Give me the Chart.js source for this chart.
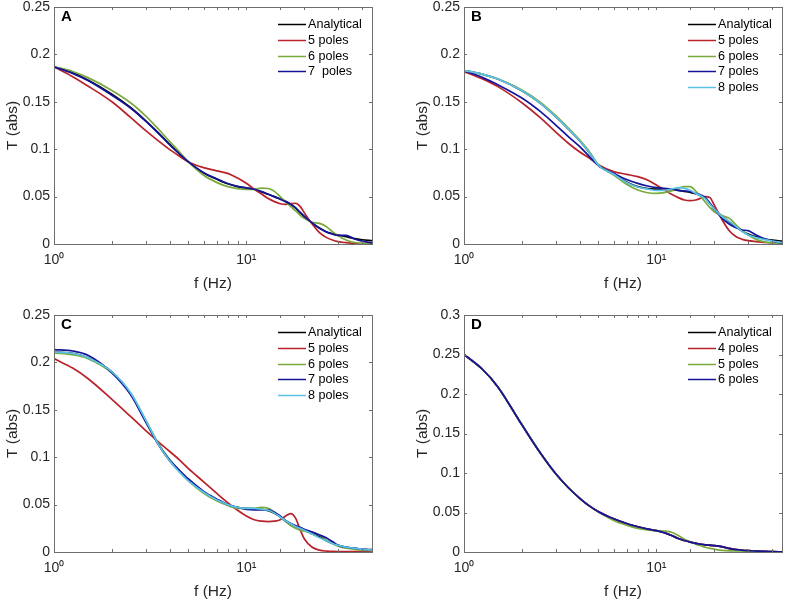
<!DOCTYPE html>
<html>
<head>
<meta charset="utf-8">
<script src="https://cdn.jsdelivr.net/npm/chart.js@4.4.1/dist/chart.umd.min.js"></script>
<style>
  html, body { margin: 0; padding: 0; background: #fff; overflow: hidden; }
  #wrap { position: relative; width: 787px; height: 600px; overflow: hidden; }
  canvas { position: absolute; }
</style>
</head>
<body>
<div id="wrap">
  <canvas id="chartA" width="377" height="300" style="left:0;top:0"></canvas>
  <canvas id="chartB" width="377" height="300" style="left:410px;top:0"></canvas>
  <canvas id="chartC" width="377" height="300" style="left:0;top:308px"></canvas>
  <canvas id="chartD" width="377" height="300" style="left:410px;top:308px"></canvas>
</div>
<script>
// frequency samples (Hz), shared by all panels
var freq = [1, 1.25, 1.5, 2, 2.5, 3, 3.5, 4, 4.5, 5, 6, 7, 8, 9, 10, 11, 12, 13, 14, 15, 16, 17, 18, 19, 20, 22, 24, 26, 28, 30, 33, 36, 40, 45];

// panel A
var aAnalytical = [0.187, 0.1805, 0.173, 0.158, 0.144, 0.130, 0.117, 0.105, 0.095, 0.0866, 0.075, 0.0685, 0.0635, 0.0605, 0.059, 0.0577, 0.055, 0.0525, 0.050, 0.0475, 0.045, 0.042, 0.038, 0.033, 0.029, 0.022, 0.0168, 0.013, 0.011, 0.0095, 0.0077, 0.006, 0.0045, 0.0035];
var aPoles5 = [0.187, 0.1765, 0.1667, 0.150, 0.1335, 0.1195, 0.1085, 0.0995, 0.0925, 0.0866, 0.0805, 0.0772, 0.0745, 0.0695, 0.064, 0.0577, 0.0527, 0.048, 0.0447, 0.0425, 0.0418, 0.0425, 0.043, 0.040, 0.033, 0.021, 0.012, 0.007, 0.0042, 0.0025, 0.0014, 0.0007, 0.0004, 0.0004];
var aPoles6 = [0.187, 0.182, 0.1755, 0.162, 0.149, 0.135, 0.121, 0.108, 0.097, 0.0866, 0.0725, 0.065, 0.0605, 0.0584, 0.0577, 0.0577, 0.059, 0.0585, 0.0555, 0.050, 0.0445, 0.0395, 0.0352, 0.0306, 0.027, 0.0229, 0.0218, 0.0185, 0.013, 0.0088, 0.0042, 0.0018, 0.0007, 0.0004];
var aPoles7 = [0.187, 0.180, 0.1725, 0.157, 0.1435, 0.1295, 0.1165, 0.1045, 0.0948, 0.0866, 0.0752, 0.0688, 0.0638, 0.0608, 0.0592, 0.0577, 0.0552, 0.0524, 0.0497, 0.0473, 0.0447, 0.0418, 0.0383, 0.0336, 0.0292, 0.0222, 0.0165, 0.0128, 0.0105, 0.0092, 0.0092, 0.0058, 0.003, 0.0012];

// panel B
var bAnalytical = [0.183, 0.179, 0.174, 0.1617, 0.1484, 0.1343, 0.121, 0.1086, 0.096, 0.083, 0.0735, 0.0655, 0.0605, 0.0585, 0.0578, 0.0575, 0.0572, 0.0565, 0.0555, 0.0545, 0.053, 0.051, 0.048, 0.0425, 0.037, 0.029, 0.023, 0.018, 0.0135, 0.0105, 0.0075, 0.0055, 0.004, 0.003];
var bPoles5 = [0.182, 0.174, 0.166, 0.149, 0.133, 0.118, 0.106, 0.097, 0.0905, 0.0835, 0.0763, 0.0735, 0.071, 0.0675, 0.0622, 0.057, 0.0524, 0.0489, 0.0464, 0.0457, 0.0464, 0.0482, 0.050, 0.0489, 0.041, 0.0253, 0.0137, 0.0077, 0.0049, 0.0035, 0.0025, 0.0018, 0.001, 0.0004];
var bPoles6 = [0.183, 0.179, 0.174, 0.1624, 0.1494, 0.1354, 0.122, 0.1097, 0.097, 0.0835, 0.0728, 0.063, 0.057, 0.0541, 0.0534, 0.0541, 0.0559, 0.0587, 0.0605, 0.0605, 0.0559, 0.050, 0.044, 0.0383, 0.034, 0.0299, 0.027, 0.020, 0.0137, 0.0095, 0.0049, 0.0025, 0.001, 0.0004];
var bPoles7 = [0.183, 0.1755, 0.168, 0.154, 0.1396, 0.1255, 0.113, 0.1027, 0.092, 0.0828, 0.0745, 0.068, 0.064, 0.0612, 0.0594, 0.0587, 0.058, 0.0566, 0.0559, 0.0552, 0.0534, 0.0517, 0.0489, 0.0429, 0.0369, 0.027, 0.0207, 0.0172, 0.0148, 0.0141, 0.0095, 0.006, 0.0032, 0.001];
var bPoles8 = [0.183, 0.179, 0.174, 0.1617, 0.1484, 0.1343, 0.121, 0.1086, 0.096, 0.083, 0.0735, 0.065, 0.0601, 0.058, 0.0566, 0.0566, 0.058, 0.0594, 0.0587, 0.0566, 0.0534, 0.051, 0.0475, 0.0418, 0.0369, 0.0288, 0.0236, 0.0183, 0.013, 0.0095, 0.0067, 0.0049, 0.0032, 0.0014];

// panel C
var cAnalytical = [0.211, 0.2095, 0.205, 0.190, 0.167, 0.138, 0.113, 0.096, 0.085, 0.076, 0.063, 0.055, 0.050, 0.047, 0.046, 0.0455, 0.045, 0.0435, 0.041, 0.037, 0.033, 0.030, 0.027, 0.025, 0.023, 0.019, 0.016, 0.012, 0.009, 0.007, 0.005, 0.004, 0.003, 0.0025];
var cPoles5 = [0.204, 0.194, 0.183, 0.161, 0.143, 0.128, 0.116, 0.106, 0.097, 0.088, 0.074, 0.062, 0.052, 0.044, 0.038, 0.034, 0.0325, 0.032, 0.0325, 0.034, 0.038, 0.0405, 0.036, 0.024, 0.014, 0.005, 0.002, 0.001, 0.0007, 0.0005, 0.0004, 0.0003, 0.0003, 0.0003];
var cPoles6 = [0.210, 0.208, 0.204, 0.189, 0.168, 0.139, 0.114, 0.097, 0.085, 0.075, 0.062, 0.054, 0.049, 0.046, 0.046, 0.046, 0.047, 0.046, 0.042, 0.037, 0.032, 0.028, 0.025, 0.023, 0.022, 0.021, 0.018, 0.013, 0.009, 0.006, 0.004, 0.003, 0.002, 0.0015];
var cPoles7 = [0.2135, 0.212, 0.2075, 0.189, 0.166, 0.137, 0.113, 0.097, 0.086, 0.077, 0.064, 0.056, 0.050, 0.047, 0.045, 0.0445, 0.0445, 0.0445, 0.042, 0.038, 0.033, 0.030, 0.028, 0.026, 0.024, 0.021, 0.018, 0.015, 0.011, 0.007, 0.005, 0.004, 0.003, 0.002];
var cPoles8 = [0.211, 0.2095, 0.205, 0.190, 0.168, 0.139, 0.113, 0.096, 0.084, 0.075, 0.063, 0.055, 0.050, 0.047, 0.046, 0.046, 0.045, 0.044, 0.041, 0.037, 0.033, 0.030, 0.027, 0.025, 0.023, 0.019, 0.015, 0.012, 0.009, 0.007, 0.005, 0.004, 0.003, 0.002];

// panel D
var dAnalytical = [0.250, 0.231, 0.209, 0.161, 0.125, 0.099, 0.081, 0.068, 0.058, 0.051, 0.042, 0.036, 0.032, 0.029, 0.027, 0.0245, 0.021, 0.017, 0.0145, 0.0125, 0.011, 0.0098, 0.009, 0.0085, 0.008, 0.0065, 0.0045, 0.003, 0.0022, 0.0017, 0.0012, 0.0008, 0.0004, 0.0002];
var dPoles4 = [0.250, 0.231, 0.209, 0.161, 0.125, 0.099, 0.081, 0.068, 0.058, 0.051, 0.042, 0.036, 0.032, 0.029, 0.027, 0.0245, 0.021, 0.017, 0.0145, 0.0125, 0.011, 0.0098, 0.009, 0.0085, 0.008, 0.0065, 0.0045, 0.003, 0.0022, 0.0017, 0.0012, 0.0008, 0.0004, 0.0002];
var dPoles5 = [0.250, 0.231, 0.209, 0.161, 0.125, 0.099, 0.081, 0.068, 0.058, 0.0505, 0.040, 0.034, 0.030, 0.028, 0.027, 0.0265, 0.025, 0.021, 0.016, 0.013, 0.010, 0.008, 0.006, 0.0045, 0.0035, 0.002, 0.0015, 0.0015, 0.0012, 0.001, 0.0008, 0.0005, 0.0003, 0.0002];
var dPoles6 = [0.250, 0.231, 0.209, 0.161, 0.125, 0.099, 0.081, 0.068, 0.058, 0.051, 0.042, 0.036, 0.032, 0.029, 0.027, 0.0243, 0.0208, 0.017, 0.0145, 0.0125, 0.011, 0.0098, 0.009, 0.0086, 0.0082, 0.0068, 0.0042, 0.003, 0.0022, 0.0017, 0.0012, 0.0008, 0.0004, 0.0002];

var labelsA = ['Analytical', '5 poles', '6 poles', '7  poles'];
var labelsB = ['Analytical', '5 poles', '6 poles', '7 poles', '8 poles'];
var labelsD = ['Analytical', '4 poles', '5 poles', '6 poles'];

var BLACK = '#000000', RED = '#B8232B', GREEN = '#7BAA3C', BLUE = '#14149A', CYAN = '#5BC2E7';

Chart.defaults.font.family = "'Liberation Sans', Arial, sans-serif";
Chart.defaults.color = '#262626';

// MATLAB-like box: frame, inward ticks, panel letter and legend inside the axes
var boxPlugin = {
    id: 'matlabBox',
    afterDatasetsDraw: function(chart, args, opts) {
        var ctx = chart.ctx;
        var a = chart.chartArea;
        var xs = chart.scales.x, ys = chart.scales.y;
        ctx.save();
        ctx.strokeStyle = '#6e6e6e';
        ctx.lineWidth = 1;
        ctx.beginPath();
        xs.ticks.forEach(function(t) {
            var px = Math.round(xs.getPixelForValue(t.value)) + 0.5;
            if (px <= a.left + 1 || px >= a.right - 1) return;
            ctx.moveTo(px, a.bottom); ctx.lineTo(px, a.bottom - 3);
            ctx.moveTo(px, a.top); ctx.lineTo(px, a.top + 3);
        });
        ys.ticks.forEach(function(t) {
            var py = Math.round(ys.getPixelForValue(t.value)) + 0.5;
            if (py <= a.top + 1 || py >= a.bottom - 1) return;
            ctx.moveTo(a.left, py); ctx.lineTo(a.left + 3, py);
            ctx.moveTo(a.right, py); ctx.lineTo(a.right - 3, py);
        });
        ctx.stroke();
        ctx.strokeRect(Math.round(a.left) + 0.5, Math.round(a.top) + 0.5, Math.round(a.right - a.left), Math.round(a.bottom - a.top));

        ctx.fillStyle = '#000';
        ctx.font = "bold 15px 'Liberation Sans', Arial, sans-serif";
        ctx.textAlign = 'left';
        ctx.textBaseline = 'middle';
        ctx.fillText(opts.letter, a.left + 7, a.top + 10);

        ctx.font = "12.6px 'Liberation Sans', Arial, sans-serif";
        chart.data.datasets.forEach(function(ds, i) {
            var yy = Math.round(a.top + 17 + i * 15.8) + 0.5;
            ctx.strokeStyle = ds.borderColor;
            ctx.lineWidth = 1.5;
            ctx.beginPath();
            ctx.moveTo(a.right - 94, yy);
            ctx.lineTo(a.right - 66, yy);
            ctx.stroke();
            ctx.fillStyle = '#000';
            ctx.fillText(ds.label, a.right - 64, yy);
        });
        ctx.restore();
    }
};

function makeDatasets(labels, series, colors) {
    return labels.map(function(lab, i) {
        return {
            label: lab,
            data: freq.map(function(f, j) { return { x: f, y: series[i][j] }; }),
            borderColor: colors[i],
            backgroundColor: colors[i],
            borderWidth: 1.7,
            pointRadius: 0,
            fill: false,
            cubicInterpolationMode: 'monotone',
            order: labels.length - i
        };
    });
}

function makeChart(id, letter, labels, series, colors, ymax) {
    new Chart(document.getElementById(id), {
        type: 'line',
        data: { datasets: makeDatasets(labels, series, colors) },
        options: {
            responsive: false,
            animation: false,
            events: [],
            layout: { padding: { top: 7, right: 5, left: 0, bottom: 0 } },
            scales: {
                x: {
                    type: 'logarithmic',
                    min: 1,
                    max: 45,
                    grid: { display: false, drawTicks: false },
                    border: { display: false },
                    ticks: {
                        autoSkip: false,
                        maxRotation: 0,
                        padding: 8,
                        font: { size: 14 },
                        callback: function(v) {
                            if (Math.abs(v - 1) < 1e-9) return '10\u2070';
                            if (Math.abs(v - 10) < 1e-9) return '10\u00B9';
                            return '';
                        }
                    },
                    title: { display: true, text: 'f (Hz)', font: { size: 15.5 }, padding: { top: 0, bottom: 7 } },
                    afterFit: function(s) { s.height = 56; s.paddingLeft = 0; s.paddingRight = 0; }
                },
                y: {
                    min: 0,
                    max: ymax,
                    grid: { display: false, drawTicks: false },
                    border: { display: false },
                    ticks: {
                        stepSize: 0.05,
                        padding: 4,
                        font: { size: 14 },
                        callback: function(v) { return String(+v.toFixed(2)); }
                    },
                    title: { display: true, text: 'T (abs)', font: { size: 15.5 }, padding: { top: 3, bottom: 0 } },
                    afterFit: function(s) { s.width = 54; s.paddingTop = 0; s.paddingBottom = 0; }
                }
            },
            plugins: {
                legend: { display: false },
                tooltip: { enabled: false },
                matlabBox: { letter: letter }
            }
        },
        plugins: [boxPlugin]
    });
}

makeChart('chartA', 'A', labelsA, [aAnalytical, aPoles5, aPoles6, aPoles7], [BLACK, RED, GREEN, BLUE], 0.25);
makeChart('chartB', 'B', labelsB, [bAnalytical, bPoles5, bPoles6, bPoles7, bPoles8], [BLACK, RED, GREEN, BLUE, CYAN], 0.25);
makeChart('chartC', 'C', labelsB, [cAnalytical, cPoles5, cPoles6, cPoles7, cPoles8], [BLACK, RED, GREEN, BLUE, CYAN], 0.25);
makeChart('chartD', 'D', labelsD, [dAnalytical, dPoles4, dPoles5, dPoles6], [BLACK, RED, GREEN, BLUE], 0.3);
</script>
</body>
</html>
